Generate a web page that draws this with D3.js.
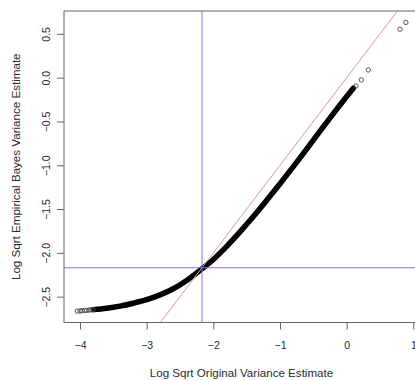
<!DOCTYPE html>
<html>
<head>
<meta charset="utf-8">
<script src="https://cdn.jsdelivr.net/npm/d3@7"></script>
<style>
  html, body { margin: 0; padding: 0; background: #fff; }
  svg { display: block; }
  text { font-family: "Liberation Sans", Arial, sans-serif; fill: #2a2a2a; }
</style>
</head>
<body>
<svg id="chart" width="415" height="381"></svg>
<script>
// Log sqrt of the original gene-wise variance vs. the empirical Bayes (moderated) estimate.
// Main body of genes: the dense band of overlapping points.
const bandX = [-3.8, -3.6, -3.4, -3.2, -3.0, -2.8, -2.6, -2.4, -2.2, -2.0, -1.8, -1.6,
               -1.4, -1.2, -1.0, -0.8, -0.6, -0.4, -0.2, 0.0, 0.1];
const bandY = [-2.648, -2.632, -2.608, -2.575, -2.535, -2.48, -2.41, -2.315, -2.2, -2.075,
               -1.925, -1.76, -1.585, -1.4, -1.21, -1.015, -0.815, -0.61, -0.41, -0.215, -0.12];
// Sparse points at the low end of the range
const lowX = [-4.04, -4.0, -3.97, -3.93, -3.9, -3.86, -3.83, -3.8];
const lowY = [-2.665, -2.663, -2.661, -2.658, -2.656, -2.653, -2.65, -2.648];
// Sparse points at the high end of the range
const highX = [0.14, 0.22, 0.325, 0.80, 0.888];
const highY = [-0.095, -0.026, 0.088, 0.553, 0.63];
// Prior (log sqrt s0) reference value and axis ticks
const priorLogSd = -2.17;
const xTicks = [-4, -3, -2, -1, 0, 1];
const yTicks = [-2.5, -2.0, -1.5, -1.0, -0.5, 0.0, 0.5];
const xTitle = "Log Sqrt Original Variance Estimate";
const yTitle = "Log Sqrt Empirical Bayes Variance Estimate";

const svg = d3.select("#chart");
const pLeft = 64, pRight = 419, pTop = 11, pBottom = 322.5;

const x = d3.scaleLinear().domain([-4.24, 1.085]).range([pLeft, pRight]);
const y = d3.scaleLinear().domain([-2.795, 0.761]).range([pBottom, pTop]);

svg.append("defs").append("clipPath").attr("id", "plotclip")
  .append("rect").attr("x", pLeft).attr("y", pTop)
  .attr("width", pRight - pLeft).attr("height", pBottom - pTop);

const plot = svg.append("g").attr("clip-path", "url(#plotclip)");

// dense band of points
const band = bandX.map((d, i) => [d, bandY[i]]);
plot.append("path")
  .datum(band)
  .attr("fill", "none")
  .attr("stroke", "#000")
  .attr("stroke-width", 5.5)
  .attr("stroke-linecap", "round")
  .attr("d", d3.line().x(d => x(d[0])).y(d => y(d[1])).curve(d3.curveMonotoneX));

// individual points
const pts = lowX.map((d, i) => [d, lowY[i]])
  .concat(highX.map((d, i) => [d, highY[i]]));
plot.selectAll("circle.pt").data(pts).join("circle")
  .attr("class", "pt")
  .attr("cx", d => x(d[0])).attr("cy", d => y(d[1]))
  .attr("r", 2.2)
  .attr("fill", "none")
  .attr("stroke", "#444")
  .attr("stroke-width", 0.9);

// identity line
const dom = x.domain();
plot.append("line")
  .attr("x1", x(dom[0])).attr("y1", y(dom[0]))
  .attr("x2", x(dom[1])).attr("y2", y(dom[1]))
  .attr("stroke", "#f09090").attr("stroke-width", 1);

// prior reference lines
plot.append("line")
  .attr("x1", x(priorLogSd)).attr("x2", x(priorLogSd))
  .attr("y1", pTop).attr("y2", pBottom)
  .attr("stroke", "#7878e6").attr("stroke-width", 1);
plot.append("line")
  .attr("x1", pLeft).attr("x2", pRight)
  .attr("y1", y(priorLogSd)).attr("y2", y(priorLogSd))
  .attr("stroke", "#7878e6").attr("stroke-width", 1);

// plot frame
svg.append("rect")
  .attr("x", pLeft).attr("y", pTop)
  .attr("width", pRight - pLeft).attr("height", pBottom - pTop)
  .attr("fill", "none").attr("stroke", "#666").attr("stroke-width", 1);

// x axis
const xa = svg.append("g").attr("transform", `translate(0,${pBottom})`)
  .call(d3.axisBottom(x).tickValues(xTicks).tickSize(7).tickSizeOuter(0)
    .tickFormat(d3.format("d")));
xa.select(".domain").remove();
xa.selectAll("line").attr("stroke", "#666");
xa.selectAll("text").attr("font-size", 10.5).attr("dy", 0).attr("y", 26)
  .style("font-family", "Liberation Sans, Arial, sans-serif").attr("fill", "#2a2a2a");

// y axis with rotated labels
const ya = svg.append("g").attr("transform", `translate(${pLeft},0)`)
  .call(d3.axisLeft(y).tickValues(yTicks).tickSize(7).tickSizeOuter(0)
    .tickFormat(d3.format(".1f")));
ya.select(".domain").remove();
ya.selectAll("line").attr("stroke", "#666");
ya.selectAll("text")
  .attr("font-size", 10.5)
  .attr("x", 0).attr("dy", 0)
  .attr("text-anchor", "middle")
  .attr("transform", "translate(-14,0) rotate(-90)")
  .style("font-family", "Liberation Sans, Arial, sans-serif").attr("fill", "#2a2a2a");

// axis titles
svg.append("text")
  .attr("x", (pLeft + pRight) / 2).attr("y", 376.5)
  .attr("text-anchor", "middle").attr("font-size", 11.6)
  .text(xTitle);
svg.append("text")
  .attr("transform", `translate(20,${(pTop + pBottom) / 2}) rotate(-90)`)
  .attr("text-anchor", "middle").attr("font-size", 11.6)
  .text(yTitle);
</script>
</body>
</html>
